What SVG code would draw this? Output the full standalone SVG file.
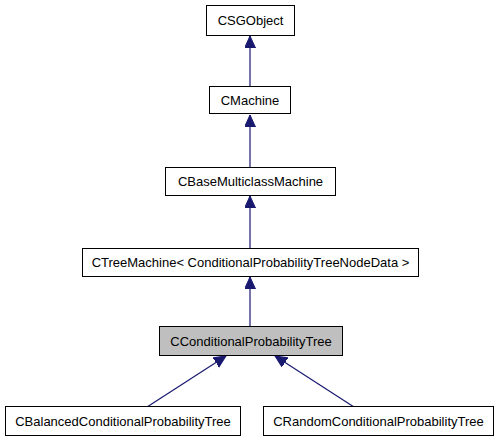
<svg xmlns="http://www.w3.org/2000/svg" width="499" height="443" viewBox="0 0 499 443">
<defs>
<style>
.node rect{fill:#ffffff;stroke:#000000;stroke-width:1}
.node.cur rect{fill:#bfbfbf}
.node text{font-family:"Liberation Sans",Arial,Helvetica,sans-serif;font-size:13px;fill:#000000;text-anchor:middle}
.edge{fill:none;stroke:#191970;stroke-width:1.2;marker-end:url(#arr)}
</style>
<marker id="arr" markerUnits="userSpaceOnUse" markerWidth="13" markerHeight="12" refX="12" refY="5.5" orient="auto">
<path d="M0,0 L12,5.5 L0,11 Z" fill="#191970" stroke="#191970" stroke-width="1"/>
</marker>
</defs>
<rect width="499" height="443" fill="#ffffff"/>
<g id="edges">
<path class="edge" d="M250,87 L250,36"/>
<path class="edge" d="M250,168 L250,115"/>
<path class="edge" d="M250,249 L250,196"/>
<path class="edge" d="M250,327 L250,277"/>
<path class="edge" d="M147,407 L226,356"/>
<path class="edge" d="M354,407 L275,356"/>
</g>
<g id="CSGObject" class="node"><rect x="206.5" y="5.5" width="88" height="30"/><text x="250.5" y="25">CSGObject</text></g>
<g id="CMachine" class="node"><rect x="209.5" y="86.5" width="81" height="27"/><text x="250" y="104.5">CMachine</text></g>
<g id="CBaseMulticlassMachine" class="node"><rect x="165.5" y="167.5" width="170" height="28"/><text x="250.5" y="186">CBaseMulticlassMachine</text></g>
<g id="CTreeMachine" class="node"><rect x="82.5" y="248.5" width="336" height="28"/><text x="250.5" y="267">CTreeMachine&lt; ConditionalProbabilityTreeNodeData &gt;</text></g>
<g id="CConditionalProbabilityTree" class="node cur"><rect x="159.5" y="326.5" width="183" height="29"/><text x="251" y="345.5">CConditionalProbabilityTree</text></g>
<g id="CBalancedConditionalProbabilityTree" class="node"><rect x="5.5" y="406.5" width="235" height="29"/><text x="123" y="425.5">CBalancedConditionalProbabilityTree</text></g>
<g id="CRandomConditionalProbabilityTree" class="node"><rect x="263.5" y="406.5" width="230" height="29"/><text x="378.5" y="425.5">CRandomConditionalProbabilityTree</text></g>
</svg>
